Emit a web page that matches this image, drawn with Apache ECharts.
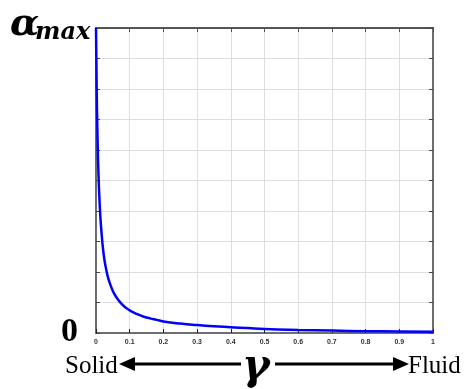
<!DOCTYPE html>
<html><head><meta charset="utf-8">
<script src="https://cdn.jsdelivr.net/npm/echarts@6/dist/echarts.min.js"></script>
<style>html,body{margin:0;padding:0;background:#fff}#c{width:464px;height:389px}</style>
</head><body><div id="c"></div>
<script>
// gamma (x) values and alpha_max (y) values
const gammaVals = [0, 0.002, 0.004, 0.006, 0.008, 0.01, 0.013, 0.016, 0.02, 0.025, 0.03, 0.035, 0.04, 0.05, 0.06, 0.07, 0.08, 0.09, 0.1, 0.12, 0.14, 0.16, 0.18, 0.2, 0.25, 0.3, 0.35, 0.4, 0.45, 0.5, 0.6, 0.7, 0.8, 0.9, 1.0];
const alphaVals = [10, 8.0, 6.7, 5.7, 5.0, 4.45, 3.8, 3.35, 2.85, 2.4, 2.1, 1.85, 1.67, 1.38, 1.18, 1.03, 0.91, 0.82, 0.74, 0.63, 0.54, 0.48, 0.43, 0.38, 0.31, 0.26, 0.22, 0.19, 0.16, 0.13, 0.10, 0.08, 0.06, 0.05, 0.04];
const xTickLabels = ['0','0.1','0.2','0.3','0.4','0.5','0.6','0.7','0.8','0.9','1'];

const chart = echarts.init(document.getElementById('c'), null, {renderer:'canvas'});
const axisGray = '#6e6e6e';
const gridCol = '#dedede';
chart.setOption({
  animation:false,
  grid:{left:96, right:31, top:28, bottom:56, containLabel:false},
  xAxis:[{
    type:'value', min:0, max:1, interval:0.1, position:'bottom',
    axisLine:{show:true, onZero:false, lineStyle:{color:axisGray, width:2}},
    axisTick:{show:true, inside:true, length:4, lineStyle:{color:'#222', width:1}},
    axisLabel:{show:true, margin:6, color:'#333', fontSize:7, fontWeight:'bold', fontFamily:'Liberation Sans',
      formatter:(v)=>xTickLabels[Math.round(v*10)]},
    splitLine:{show:true, lineStyle:{color:gridCol, width:1}}
  },{
    type:'value', min:0, max:1, interval:0.1, position:'top',
    axisLine:{show:true, onZero:false, lineStyle:{color:'#222', width:1.5}},
    axisTick:{show:true, inside:true, length:4, lineStyle:{color:'#555', width:1}},
    axisLabel:{show:false}, splitLine:{show:false}
  }],
  yAxis:[{
    type:'value', min:0, max:10, interval:1, position:'left',
    axisLine:{show:true, onZero:false, lineStyle:{color:axisGray, width:2}},
    axisTick:{show:true, inside:true, length:4, lineStyle:{color:'#444', width:1}},
    axisLabel:{show:false},
    splitLine:{show:true, lineStyle:{color:gridCol, width:1}}
  },{
    type:'value', min:0, max:10, interval:1, position:'right',
    axisLine:{show:true, onZero:false, lineStyle:{color:axisGray, width:2}},
    axisTick:{show:true, inside:true, length:4, lineStyle:{color:'#444', width:1}},
    axisLabel:{show:false}, splitLine:{show:false}
  }],
  series:[{
    type:'line', xAxisIndex:0, yAxisIndex:0, showSymbol:false, smooth:true,
    lineStyle:{color:'#0000ff', width:2.5},
    data: gammaVals.map((g,i)=>[g, alphaVals[i]])
  }],
  graphic:[
    {type:'text', x:10, y:25, style:{text:'α', font:'bold italic 38px "DejaVu Serif"', fill:'#000', verticalAlign:'middle'}},
    {type:'text', x:35, y:33, style:{text:'max', font:'bold italic 24px "DejaVu Serif"', fill:'#000', verticalAlign:'middle'}},
    {type:'text', x:61, y:332, style:{text:'0', font:'bold 34px "Liberation Serif"', fill:'#000', verticalAlign:'middle'}},
    {type:'text', x:65, y:366, style:{text:'Solid', font:'25px "Liberation Serif"', fill:'#000', verticalAlign:'middle'}},
    {type:'text', x:408, y:366, style:{text:'Fluid', font:'25px "Liberation Serif"', fill:'#000', verticalAlign:'middle'}},
    {type:'text', x:242, y:368, style:{text:'γ', font:'bold italic 42px "DejaVu Serif"', fill:'#000', verticalAlign:'middle'}},
    {type:'line', shape:{x1:132, y1:364, x2:241, y2:364}, style:{stroke:'#000', lineWidth:3}},
    {type:'line', shape:{x1:275, y1:364, x2:397, y2:364}, style:{stroke:'#000', lineWidth:3}},
    {type:'polygon', shape:{points:[[119,364],[135,357],[135,371]]}, style:{fill:'#000'}},
    {type:'polygon', shape:{points:[[409,364],[393,357],[393,371]]}, style:{fill:'#000'}}
  ]
});
</script></body></html>
